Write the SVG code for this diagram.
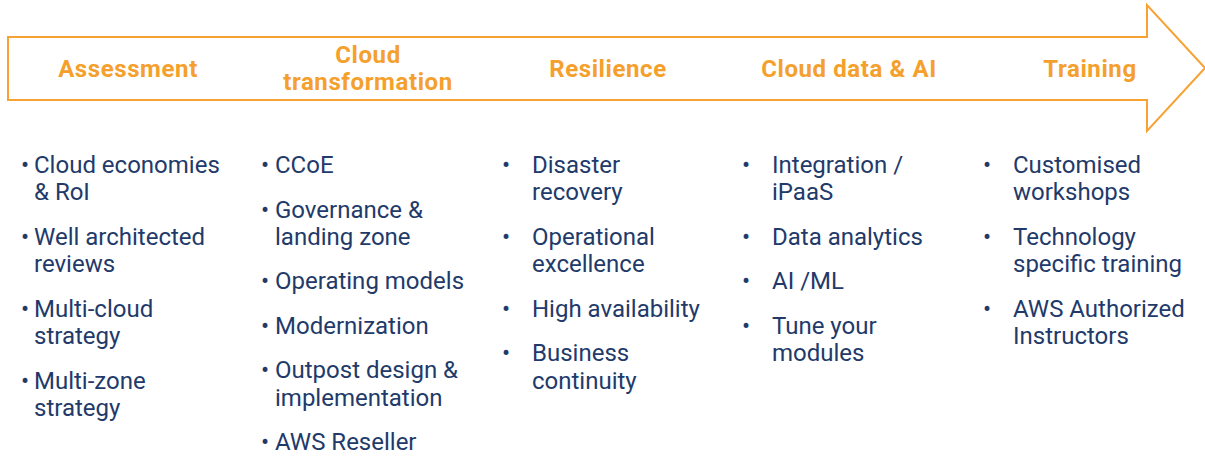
<svg xmlns="http://www.w3.org/2000/svg" width="1205" height="456" viewBox="0 0 1205 456">
<style>
.arrow{fill:#fff;stroke:#F7A233;stroke-width:2}
.hd{font-family:Roboto,"Liberation Sans",sans-serif;font-weight:700;font-size:24px;letter-spacing:0.6px;fill:#F5A02C;text-anchor:middle}
.it{font-family:Roboto,"Liberation Sans",sans-serif;font-size:24px;fill:#223A6A}
.bl{font-family:Roboto,"Liberation Sans",sans-serif;font-size:24px;fill:#223A6A;text-anchor:middle}
</style>
<rect width="1205" height="456" fill="#fff"/>
<g id="connectors">
<path class="arrow" d="M8,37 H1147 V5 L1205,68 L1147,131 V100 H8 Z"/>
</g>
<g id="assessment">
<text class="hd" x="128" y="77">Assessment</text>
<text class="bl" x="25" y="173">•</text>
<text class="it" x="34" y="173">Cloud economies</text>
<text class="it" x="34" y="200">&amp; RoI</text>
<text class="bl" x="25" y="245">•</text>
<text class="it" x="34" y="245">Well architected</text>
<text class="it" x="34" y="272">reviews</text>
<text class="bl" x="25" y="317">•</text>
<text class="it" x="34" y="317">Multi-cloud</text>
<text class="it" x="34" y="344">strategy</text>
<text class="bl" x="25" y="389">•</text>
<text class="it" x="34" y="389">Multi-zone</text>
<text class="it" x="34" y="416">strategy</text>
</g>
<g id="cloud-transformation">
<text class="hd" x="368" y="63">Cloud</text>
<text class="hd" x="368" y="90">transformation</text>
<text class="bl" x="265" y="173">•</text>
<text class="it" x="275" y="173">CCoE</text>
<text class="bl" x="265" y="218">•</text>
<text class="it" x="275" y="218">Governance &amp;</text>
<text class="it" x="275" y="245">landing zone</text>
<text class="bl" x="265" y="289">•</text>
<text class="it" x="275" y="289">Operating models</text>
<text class="bl" x="265" y="334">•</text>
<text class="it" x="275" y="334">Modernization</text>
<text class="bl" x="265" y="378">•</text>
<text class="it" x="275" y="378">Outpost design &amp;</text>
<text class="it" x="275" y="406">implementation</text>
<text class="bl" x="265" y="450">•</text>
<text class="it" x="275" y="450">AWS Reseller</text>
</g>
<g id="resilience">
<text class="hd" x="608" y="77">Resilience</text>
<text class="bl" x="506" y="173">•</text>
<text class="it" x="532" y="173">Disaster</text>
<text class="it" x="532" y="200">recovery</text>
<text class="bl" x="506" y="245">•</text>
<text class="it" x="532" y="245">Operational</text>
<text class="it" x="532" y="272">excellence</text>
<text class="bl" x="506" y="317">•</text>
<text class="it" x="532" y="317">High availability</text>
<text class="bl" x="506" y="361">•</text>
<text class="it" x="532" y="361">Business</text>
<text class="it" x="532" y="389">continuity</text>
</g>
<g id="cloud-data-ai">
<text class="hd" x="849" y="77">Cloud data &amp; AI</text>
<text class="bl" x="746" y="173">•</text>
<text class="it" x="772" y="173">Integration /</text>
<text class="it" x="772" y="200">iPaaS</text>
<text class="bl" x="746" y="245">•</text>
<text class="it" x="772" y="245">Data analytics</text>
<text class="bl" x="746" y="289">•</text>
<text class="it" x="772" y="289">AI /ML</text>
<text class="bl" x="746" y="334">•</text>
<text class="it" x="772" y="334">Tune your</text>
<text class="it" x="772" y="361">modules</text>
</g>
<g id="training">
<text class="hd" x="1090" y="77">Training</text>
<text class="bl" x="987" y="173">•</text>
<text class="it" x="1013" y="173">Customised</text>
<text class="it" x="1013" y="200">workshops</text>
<text class="bl" x="987" y="245">•</text>
<text class="it" x="1013" y="245">Technology</text>
<text class="it" x="1013" y="272">specific training</text>
<text class="bl" x="987" y="317">•</text>
<text class="it" x="1013" y="317">AWS Authorized</text>
<text class="it" x="1013" y="344">Instructors</text>
</g>
</svg>
